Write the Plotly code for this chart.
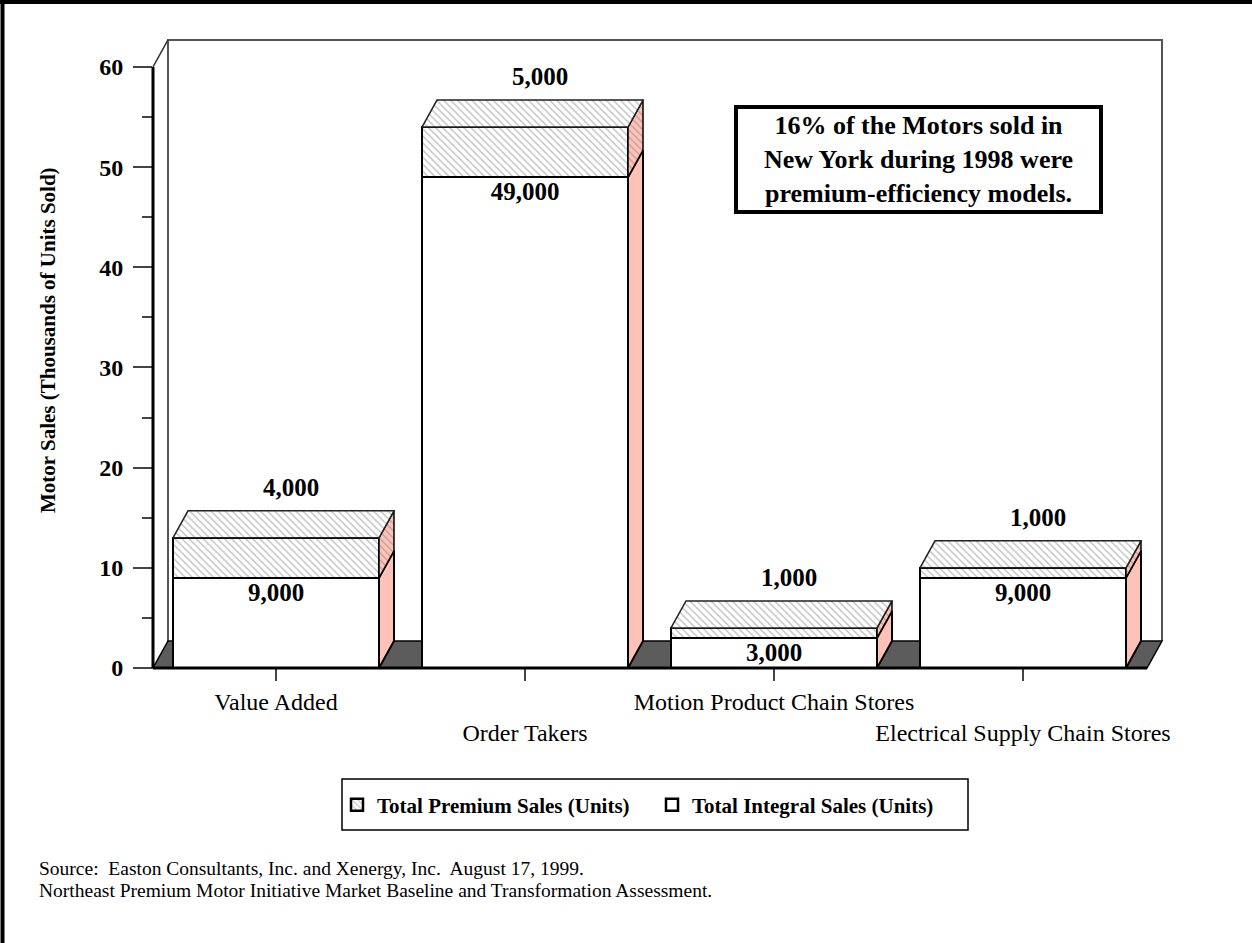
import plotly.graph_objects as go

# ---------------- data ----------------
categories = ["Value Added", "Order Takers", "Motion Product Chain Stores",
              "Electrical Supply Chain Stores"]
integral_units = [9000, 49000, 3000, 9000]   # Total Integral Sales (Units)
premium_units = [4000, 5000, 1000, 1000]     # Total Premium Sales (Units)
y_tick_values = [0, 10, 20, 30, 40, 50, 60]
y_title = "Motor Sales (Thousands of Units Sold)"
note_lines = ["16% of the Motors sold in", "New York during 1998 were",
              "premium-efficiency models."]
source_lines = ["Source:&nbsp; Easton Consultants, Inc. and Xenergy, Inc.&nbsp; August 17, 1999.",
                "Northeast Premium Motor Initiative Market Baseline and Transformation Assessment."]

# ---------------- geometry (pixels) ----------------
W, H = 1252, 943
PL, PR, PT, PB = 140, 1175, 30, 680      # plot-area edges
X0PX, XSTEP = 276, 249                   # centre of first category, px per category
Y0PX, YSTEP = 668, 10.017                # px of zero, px per y unit
FRONT_L_PX, FRONT_R_PX = 153, 1147
DEPTH_X_PX, DEPTH_Y_PX = 15, 27
BAR_W_PX = 206

def px_x(p):
    return (p - PL) / (PR - PL)

def px_y(p):
    return (PB - p) / (PB - PT)

x_range = [(PL - X0PX) / XSTEP, (PR - X0PX) / XSTEP]
y_range = [(Y0PX - PB) / YSTEP, (Y0PX - PT) / YSTEP]
DX = DEPTH_X_PX / XSTEP
DY = DEPTH_Y_PX / YSTEP
BW = BAR_W_PX / XSTEP
XF = (FRONT_L_PX - X0PX) / XSTEP
XR = (FRONT_R_PX - X0PX) / XSTEP
YTOP = y_tick_values[-1]

FONT = "Liberation Serif"
PINK = "#FFC2B8"
FLOOR = "#5C5C5C"
HATCH = "#777777"
WALL = "#555555"

xs = list(range(len(categories)))
integral_k = [v / 1000 for v in integral_units]
premium_k = [v / 1000 for v in premium_units]
total_k = [a + b for a, b in zip(integral_k, premium_k)]

fig = go.Figure()

# side and top faces (3D look), computed from the data
for i, (ik, tk) in enumerate(zip(integral_k, total_k)):
    xl, xr = i - BW / 2, i + BW / 2
    fig.add_trace(go.Scatter(
        x=[xr, xr + DX, xr + DX, xr, xr], y=[0, DY, ik + DY, ik, 0],
        mode="lines", fill="toself", fillcolor=PINK,
        line=dict(color="black", width=2), showlegend=False, hoverinfo="skip"))
    fig.add_trace(go.Scatter(
        x=[xr, xr + DX, xr + DX, xr, xr], y=[ik, ik + DY, tk + DY, tk, ik],
        mode="lines", fill="toself", fillcolor=PINK,
        fillpattern=dict(shape="\\", fgcolor=HATCH, bgcolor=PINK, size=5, solidity=0.25),
        line=dict(color="black", width=1.5), showlegend=False, hoverinfo="skip"))
    fig.add_trace(go.Scatter(
        x=[xl, xr, xr + DX, xl + DX, xl], y=[tk, tk, tk + DY, tk + DY, tk],
        mode="lines", fill="toself", fillcolor="white",
        fillpattern=dict(shape="\\", fgcolor=HATCH, bgcolor="white", size=5, solidity=0.25),
        line=dict(color="#222222", width=1.5), showlegend=False, hoverinfo="skip"))

# front faces
fig.add_trace(go.Bar(
    x=xs, y=integral_k, width=BW, name="Total Integral Sales (Units)",
    marker=dict(color="white", line=dict(color="black", width=2.5)),
    hoverinfo="skip"))
fig.add_trace(go.Bar(
    x=xs, y=premium_k, width=BW, name="Total Premium Sales (Units)",
    marker=dict(color="white", line=dict(color="black", width=2.5),
                pattern=dict(shape="\\", fgcolor=HATCH, bgcolor="white", size=5, solidity=0.25)),
    hoverinfo="skip"))

# value labels
fig.add_trace(go.Scatter(
    x=[i + DX for i in xs], y=[t + DY + 21 / YSTEP for t in total_k],
    mode="text", text=[f"{v:,}" for v in premium_units],
    textfont=dict(family=FONT, size=25, color="black", weight="bold"),
    showlegend=False, hoverinfo="skip"))
fig.add_trace(go.Scatter(
    x=xs, y=[v - 17 / YSTEP for v in integral_k],
    mode="text", text=[f"{v:,}" for v in integral_units],
    textfont=dict(family=FONT, size=25, color="black", weight="bold"),
    showlegend=False, hoverinfo="skip"))

shapes = []
# back wall
shapes.append(dict(type="path", layer="below",
                   path=f"M{XF+DX},{DY} L{XF+DX},{YTOP+DY} L{XR+DX},{YTOP+DY} L{XR+DX},{DY}",
                   xref="x", yref="y", line=dict(color=WALL, width=2)))
# left wall diagonal at top
shapes.append(dict(type="line", layer="below", xref="x", yref="y",
                   x0=XF, y0=YTOP, x1=XF + DX, y1=YTOP + DY,
                   line=dict(color="#333333", width=1.5)))
# floor
shapes.append(dict(type="path", layer="below", xref="x", yref="y",
                   path=f"M{XF},0 L{XR},0 L{XR+DX},{DY} L{XF+DX},{DY} Z",
                   fillcolor=FLOOR, line=dict(color="black", width=1.5)))
# footprints of bars on the floor
for i in xs:
    xl = i - BW / 2
    shapes.append(dict(type="line", layer="below", xref="x", yref="y",
                       x0=xl, y0=0, x1=xl + DX, y1=DY, line=dict(color="black", width=1.5)))
# front axis line and floor front edge
shapes.append(dict(type="line", layer="above", xref="x", yref="y",
                   x0=XF, y0=0, x1=XF, y1=YTOP, line=dict(color="black", width=3)))
shapes.append(dict(type="line", layer="above", xref="x", yref="y",
                   x0=XF, y0=0, x1=XR, y1=0, line=dict(color="black", width=3)))
# legend box
shapes.append(dict(type="rect", xref="paper", yref="paper",
                   x0=px_x(342), x1=px_x(968), y0=px_y(830), y1=px_y(779),
                   line=dict(color="black", width=1.5)))
# outer frame (left and top edges visible)
shapes.append(dict(type="line", xref="paper", yref="paper",
                   x0=px_x(2.5), x1=px_x(2.5), y0=px_y(0), y1=px_y(H),
                   line=dict(color="black", width=4)))
shapes.append(dict(type="line", xref="paper", yref="paper",
                   x0=px_x(0), x1=px_x(W), y0=px_y(2), y1=px_y(2),
                   line=dict(color="black", width=4)))

annotations = [
    dict(xref="paper", yref="paper", x=px_x(918.5), y=px_y(159.5),
         xanchor="center", yanchor="middle", showarrow=False,
         text="<br>".join(note_lines), align="center",
         font=dict(family=FONT, size=26, color="black", weight="bold"),
         width=361, height=101, borderwidth=4, bordercolor="black", borderpad=0,
         bgcolor="white"),
    dict(xref="paper", yref="paper", x=px_x(48), y=px_y(340),
         xanchor="center", yanchor="middle", showarrow=False, textangle=-90,
         text=y_title, font=dict(family=FONT, size=21, color="black", weight="bold")),
]
for k, line in enumerate(source_lines):
    annotations.append(dict(xref="paper", yref="paper", x=px_x(37), y=px_y(868 + 22 * k),
                            xanchor="left", yanchor="middle", showarrow=False, align="left",
                            text=line, font=dict(family=FONT, size=19.5, color="black")))

tick_text = [c if k % 2 == 0 else "<br>" + c for k, c in enumerate(categories)]

fig.update_layout(
    width=W, height=H,
    margin=dict(l=PL, r=W - PR, t=PT, b=H - PB, autoexpand=False),
    paper_bgcolor="white", plot_bgcolor="white",
    barmode="stack", bargap=0,
    shapes=shapes, annotations=annotations,
    showlegend=True,
    legend=dict(orientation="h", x=px_x(652), xanchor="center",
                y=px_y(805), yanchor="middle", traceorder="reversed",
                font=dict(family=FONT, size=21, color="black", weight="bold"),
                bgcolor="rgba(0,0,0,0)", borderwidth=0, itemwidth=30,
                entrywidth=270, entrywidthmode="pixels"),
    xaxis=dict(range=x_range, anchor="free", position=px_y(Y0PX),
               tickvals=xs, ticktext=tick_text, ticks="outside", ticklen=12,
               tickangle=0,
               tickcolor="#444444", tickwidth=1.5,
               showline=False, showgrid=False, zeroline=False,
               tickfont=dict(family=FONT, size=24, color="black")),
    yaxis=dict(range=y_range, anchor="free", position=px_x(FRONT_L_PX - 1),
               tickvals=y_tick_values, ticks="outside", ticklen=19,
               tickcolor="#444444", tickwidth=1.5,
               minor=dict(dtick=5, tick0=0, ticks="outside", ticklen=10,
                          tickcolor="#444444", tickwidth=1.5),
               showline=False, showgrid=False, zeroline=False,
               ticklabelstandoff=5,
               tickfont=dict(family=FONT, size=24, color="black", weight="bold")),
)

fig.write_html("out.html")
